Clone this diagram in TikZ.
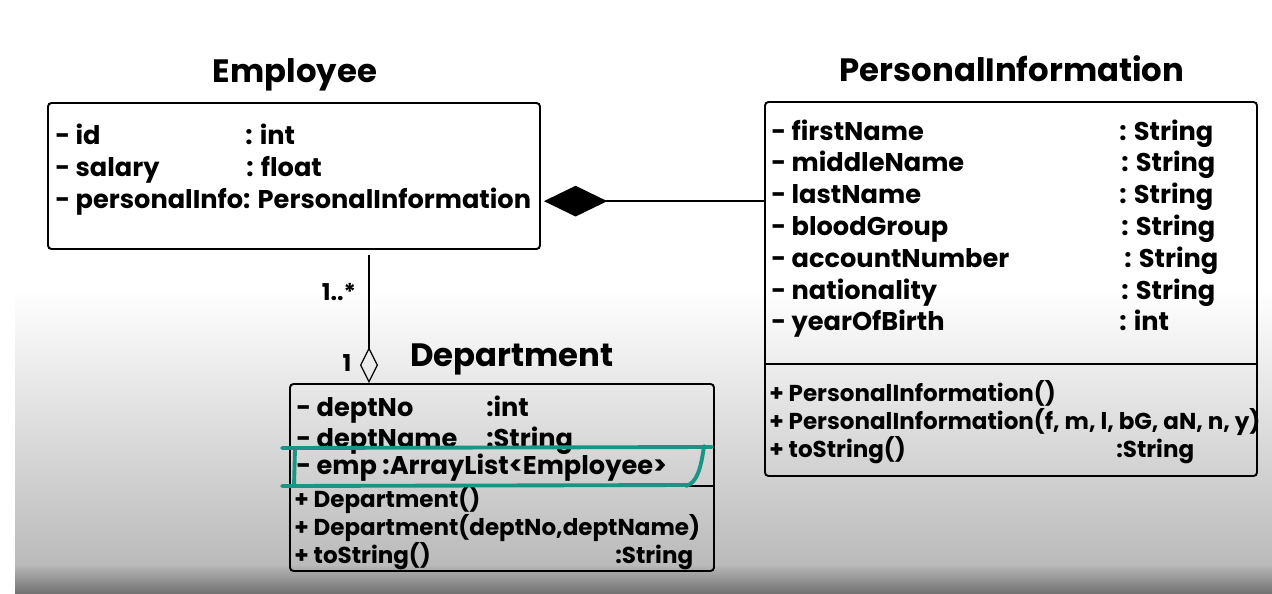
\documentclass[tikz,border=0pt]{standalone}
\usepackage{fontspec}
\setmainfont{Poppins}
\usetikzlibrary{arrows.meta, positioning, fit}
\definecolor{marker}{HTML}{1A9484}

\begin{document}
\begin{tikzpicture}[
  x=0.02cm, y=-0.02cm,
  box/.style={draw, line width=1.1pt, rounded corners=2pt, inner sep=0pt},
  ttl/.style={anchor=base, inner sep=0pt, font=\bfseries\fontsize{18.4}{22}\selectfont},
  attr/.style={anchor=base west, inner sep=0pt, font=\bfseries\fontsize{14.6}{18}\selectfont},
  meth/.style={anchor=base west, inner sep=0pt, font=\bfseries\fontsize{13.1}{16}\selectfont},
  mult/.style={anchor=base, inner sep=0pt, font=\bfseries\fontsize{13.2}{16}\selectfont},
  >=Latex
]
% background
\fill[white] (0,0) rectangle (1272,593);
\shade[top color=white, bottom color=black!27] (15,290) rectangle (1272,566);
\shade[top color=black!29, bottom color=black!55] (15,566) rectangle (1272,593);
\useasboundingbox (0,0) rectangle (1272,593);

% titles
\node[ttl] (empT) at (295,82) {Employee};
\node[ttl] (piT) at (1012,81) {PersonalInformation};
\node[ttl] (depT) at (512,366) {Department};

% boxes
\node[box, fit={(48,103) (540,249)}] (emp) {};
\node[box, fit={(765,102) (1257,476)}] (pi) {};
\node[box, fit={(290,384) (714,571)}] (dep) {};
\coordinate (piDiv) at (765,364);
\coordinate (depDiv) at (290,486);
\draw[line width=1.1pt] (piDiv) -- (piDiv -| pi.east);
\draw[line width=1.1pt] (depDiv) -- (depDiv -| dep.east);

% Employee
\node[attr] (e1n) at (55,144) {- id};
\node[attr] (e1t) at (245,144) {: int};
\node[attr] (e2n) at (55,176) {- salary};
\node[attr] (e2t) at (246,176) {: float};
\node[attr] (e3n) at (55,208) {- personalInfo: PersonalInformation};

% PersonalInformation
\node[attr] (p1n) at (771,140) {- firstName};
\node[attr] (p1t) at (1119,140) {: String};
\node[attr] (p2n) at (771,171) {- middleName};
\node[attr] (p2t) at (1121,171) {: String};
\node[attr] (p3n) at (771,203) {- lastName};
\node[attr] (p3t) at (1119,203) {: String};
\node[attr] (p4n) at (771,235) {- bloodGroup};
\node[attr] (p4t) at (1121,235) {: String};
\node[attr] (p5n) at (771,267) {- accountNumber};
\node[attr] (p5t) at (1124,267) {: String};
\node[attr] (p6n) at (771,299) {- nationality};
\node[attr] (p6t) at (1121,299) {: String};
\node[attr] (p7n) at (771,330) {- yearOfBirth};
\node[attr] (p7t) at (1119,330) {: int};
\node[meth] (pm1) at (769,401) {+ PersonalInformation()};
\node[meth] (pm2) at (769,429) {+ PersonalInformation(f, m, l, bG, aN, n, y)};
\node[meth] (pm3n) at (769,457) {+ toString()};
\node[meth] (pm3t) at (1116,457) {:String};

% Department
\node[attr] (d1n) at (296,416) {- deptNo};
\node[attr] (d1t) at (486,416) {:int};
\node[attr] (d2n) at (296,447) {- deptName};
\node[attr] (d2t) at (486,447) {:String};
\node[attr] (d3n) at (296,474) {- emp :ArrayList<Employee>};
\node[meth] (dm1) at (294,507) {+ Department()};
\node[meth] (dm2) at (294,535) {+ Department(deptNo,deptName)};
\node[meth] (dm3n) at (294,563) {+ toString()};
\node[meth] (dm3t) at (615,563) {:String};

% relations
\draw[line width=1.1pt, -{Diamond[length=36pt, width=17.5pt]}, shorten >=1.7pt]
  (pi.west |- e3n) -- (emp.east |- e3n);
\coordinate (aggTop) at (369,255);
\draw[line width=0.7pt, -{Diamond[open, length=20.4pt, width=10.2pt]}]
  (aggTop) -- (aggTop |- dep.north);
\node[mult] (m1) at (339,300) {1..*};
\node[mult] (m2) at (347,371) {1};

% highlight
\draw[marker, line width=2.2pt, line cap=round]
  (282,448) -- (712,447)
  (295,449) -- (294,486)
  (282,486) -- (688,485)
  (704,446) .. controls (701,468) and (697,483) .. (686,486);
\end{tikzpicture}
\end{document}
